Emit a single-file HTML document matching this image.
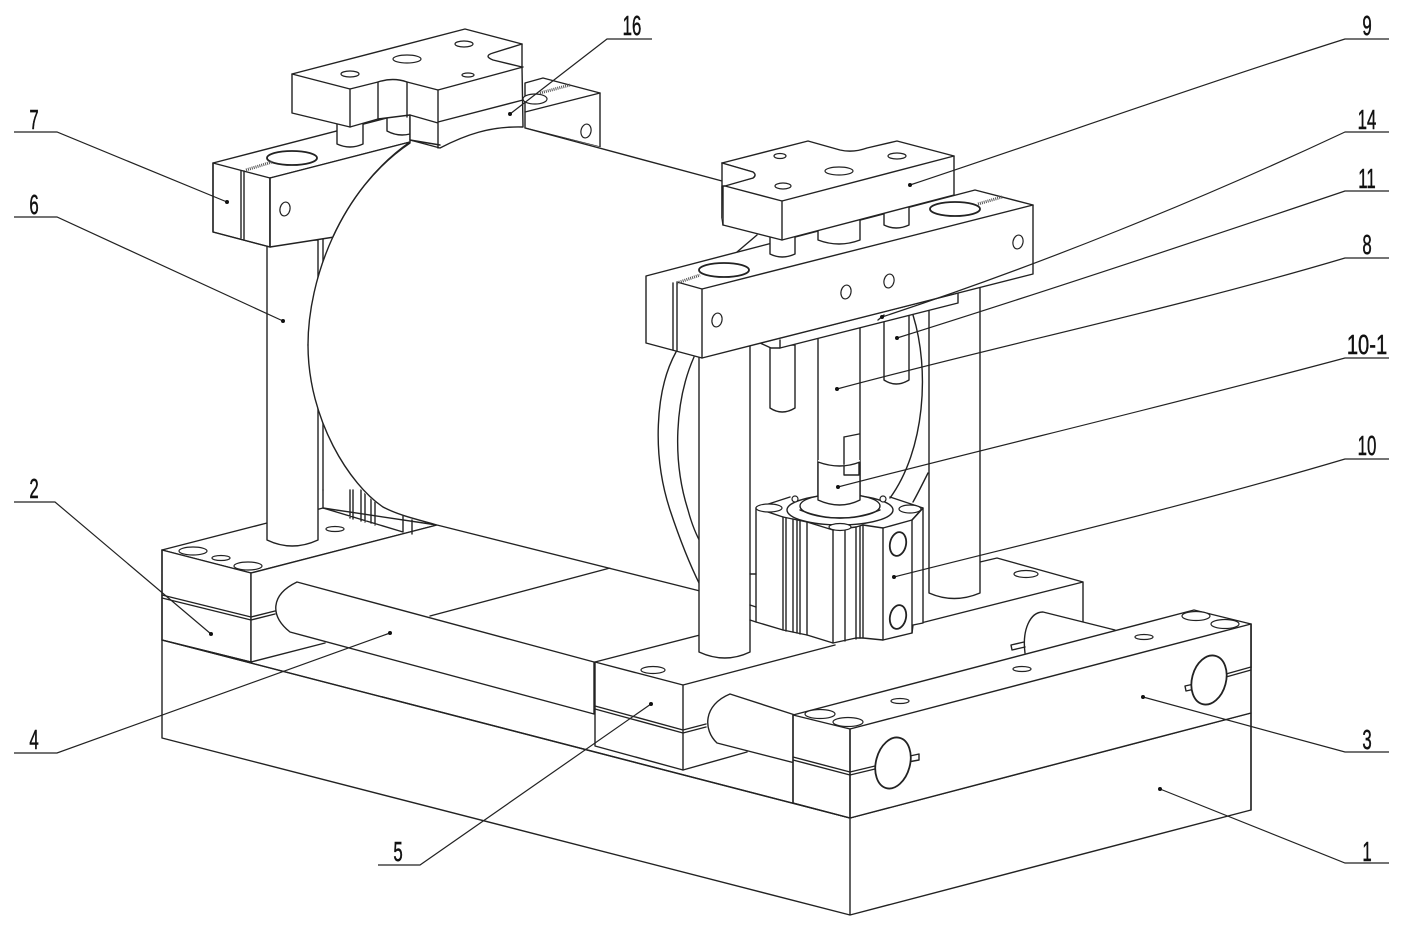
<!DOCTYPE html>
<html><head><meta charset="utf-8"><style>
html,body{margin:0;padding:0;background:#fff}
svg{display:block}
.l{fill:none;stroke:#222;stroke-width:1.4;stroke-linejoin:round;stroke-linecap:round}
.f{fill:#fff;stroke:#222;stroke-width:1.4;stroke-linejoin:round;stroke-linecap:round}
.h{fill:#fff;stroke:#222;stroke-width:1.2}
.b{fill:#fff;stroke:#222;stroke-width:1.8}
.t{fill:none;stroke:#555;stroke-width:3;stroke-dasharray:1 1}
.ld{fill:none;stroke:#222;stroke-width:1.2}
.d{fill:#111}
text{font-family:"Liberation Sans",sans-serif;font-size:28px;fill:#111;stroke:#111;stroke-width:.5;text-anchor:middle}
</style></head><body>
<svg width="1402" height="930" viewBox="0 0 1402 930" xmlns="http://www.w3.org/2000/svg">
<!-- base -->
<path class="l" d="M162,640V738L850,915L1251,810V713M850,818V915M162,640L850,818L1251,713"/>
<!-- rear-left lower block -->
<path class="f" d="M162,550L267,523L323,508L437,525L251,573Z"/>
<path class="f" d="M162,550L251,573V662L162,640Z"/>
<path class="f" d="M251,573L437,525L600,600L325,643L251,662Z" style="stroke:none"/>
<path class="l" d="M251,573L437,525M251,662L325,643M251,573V662M162,550V640M162,640L251,662"/>
<path class="l" d="M162,595L251,617L275,611M162,598L251,620L275,614"/>
<ellipse class="h" cx="193" cy="551" rx="14" ry="4"/><ellipse class="h" cx="221" cy="558" rx="9" ry="2.5"/><ellipse class="h" cx="248" cy="566" rx="14" ry="4"/><ellipse class="h" cx="335" cy="529" rx="9" ry="2.5"/>
<path class="l" d="M323,490V508M323,508L403,532M350,490V518M353,490V519M361,490V521M365,490V522M371,492V523M375,495V525M403,516V532M412,520V534"/>
<path class="l" d="M430,616L610,568"/>
<!-- rear right lower block -->
<path class="f" d="M595,662L700,635L750,622L913,625L997,558L1083,582V625L1115,630L850,700L683,770L595,746Z" style="stroke:none"/>
<path class="l" d="M595,662L700,635M683,685L835,645M913,625L1083,582L997,558L980,562M1083,582V622"/>
<ellipse class="h" cx="1026" cy="574" rx="12" ry="3.5"/>
<!-- rear rod right -->
<path class="f" d="M1025,653C1022,630 1030,612 1043,612L1115,630L1040,652Z" style="stroke:none"/>
<path class="l" d="M1025,653C1022,630 1030,612 1043,612L1115,630"/>
<path class="l" d="M1024,642L1011,645L1012,650L1025,647"/>
<!-- rods 4 and 5 -->
<path class="f" d="M297,582L594,662V714L290,632C270,616 270,595 297,582Z"/>
<!-- front-left block of 5 -->
<path class="f" d="M595,662L683,685V770L595,746Z"/>
<path class="l" d="M595,706L683,730L706,724M595,709L683,733L706,727M683,770L747,752"/>
<path class="l" d="M162,640L850,818"/>
<ellipse class="h" cx="653" cy="670" rx="12" ry="3.5"/>
<path class="f" d="M730,694L795,715V763L717,743C703,730 703,705 730,694Z"/>
<!-- back bar of upper-left -->
<path class="f" d="M525,83L543,78L600,93V147L525,128Z"/>
<path class="l" d="M525,112L600,93"/>
<ellipse class="h" cx="535" cy="99" rx="12" ry="5"/>
<path class="t" d="M540,93L570,85"/>
<ellipse class="h" cx="586" cy="131" rx="5" ry="7" transform="rotate(12 586 131)"/>
<!-- left pillar -->
<path class="f" d="M267,240V540Q292,552 318,540V240Z"/>
<path class="l" d="M323,235V490"/>
<!-- main cylinder -->
<path class="f" d="M410,143C340,190 308,280 308,345C308,420 350,490 383,507C400,515 420,520 437,525L700,590L800,600V200L722,181L600,147L525,128C490,126 465,135 440,148Z" style="stroke:none"/>
<path class="l" d="M308,345C308,420 350,485 383,507C400,516 420,520 437,525L700,591M525,128L722,181"/>
<!-- right end of cylinder -->
<path class="l" d="M676,352C655,390 652,455 670,510C680,540 690,565 700,585M694,357C675,400 672,460 688,510C692,525 696,535 702,545"/>
<path class="l" d="M913,315C930,370 925,450 890,498M928,473C922,485 917,495 913,502"/>
<!-- right rear pillar -->
<path class="f" d="M929,287V593Q954,604 980,593V287Z"/>
<!-- small rods, rod 8 -->
<path class="f" d="M770,345V408Q782,416 795,408V345Z"/>
<path class="f" d="M884,315V380Q896,388 909,380V315Z"/>
<path class="f" d="M818,335V500Q840,510 860,500V325Z"/>
<path class="l" d="M844,437V475H859M844,437L859,434M844,466L859,463"/>
<!-- front pillar -->
<path class="f" d="M699,355V652Q725,664 750,652V345Z"/>
<!-- pneumatic cylinder 10 -->
<path class="f" d="M756,508L783,517L807,522L833,530L856,527L863,525L883,528L912,520L923,508V623L913,625L912,633L883,640L863,638L856,638L833,643L807,635L783,630L756,622Z"/>
<path class="l" d="M783,517V630M786,518V631M793,519V632M797,520V633M800,521V634M807,522V635M833,530V643M845,529V641M856,527V639M860,526V638M863,525V638M883,528V640M912,520V633"/>
<path class="l" d="M912,520L923,508M756,508L790,497M890,497L923,508M756,574H750M750,605L756,607M750,620L756,622"/>
<ellipse class="f" cx="840" cy="510" rx="53" ry="15"/>
<ellipse class="f" cx="840" cy="506" rx="40" ry="12"/>
<path class="l" d="M800,510Q840,526 880,510"/>
<ellipse class="h" cx="769" cy="508" rx="13" ry="4"/><ellipse class="h" cx="910" cy="509" rx="11" ry="4"/><ellipse class="h" cx="840" cy="527" rx="11" ry="3.5"/>
<circle class="h" cx="795" cy="499" r="3"/><circle class="h" cx="883" cy="499" r="3"/>
<ellipse class="b" cx="898" cy="544" rx="8" ry="12" transform="rotate(12 898 544)"/>
<ellipse class="b" cx="898" cy="617" rx="8" ry="12" transform="rotate(12 898 617)"/>
<path class="f" d="M818,460V500Q840,510 860,500V460Q840,470 818,460Z" style="stroke:none"/>
<path class="l" d="M818,462V500Q840,510 860,500V462Q840,470 818,462"/>
<path class="l" d="M844,466V475H859V463"/>
<!-- left clamp bar 7 -->
<path class="f" d="M213,163L410,112V142L270,178V247L213,232Z"/>
<path class="f" d="M270,178L410,142C375,166.5 349.5,200.75 332.75,237.25L270,247Z"/>
<path class="l" d="M213,163L270,178M270,178V247M213,163V232L270,247"/>
<path class="l" d="M241,171V238M244,171V239"/>
<ellipse class="b" cx="292" cy="158" rx="25" ry="7"/>
<path class="t" d="M246,170L272,162"/>
<ellipse class="h" cx="285" cy="209" rx="5" ry="7" transform="rotate(12 285 209)"/>
<path class="l" d="M410,143C340,190 308,280 308,345"/>
<!-- lower-left upper piece studs -->
<path class="f" d="M337,120V144Q350,150 363,144V120Z"/>
<path class="f" d="M387,110V131Q398,137 410,134V110Z"/>
<!-- left upper piece 16 -->
<path class="f" d="M292,74L465,29L522,44V67L523,127C490,126 465,135 440,148L410,140V115L378,119L350,127L292,113Z"/>
<path class="l" d="M350,89V127M378,82V119M407,82V117M438,90V148M292,74L350,89L378,82Q393,77 407,82L438,90L523,67M438,122L523,100M410,115L438,123M522,44L493,53Q483,56 493,60L522,67"/>
<ellipse class="h" cx="350" cy="74" rx="9" ry="3"/><ellipse class="h" cx="407" cy="59" rx="14" ry="4"/><ellipse class="h" cx="464" cy="44" rx="9" ry="3"/><ellipse class="h" cx="468" cy="75" rx="6" ry="2"/>
<path class="l" d="M410,140L440,145"/>
<!-- plate 14 -->
<path class="f" d="M760,343L958,293V303L780,348H771Z"/>
<path class="l" d="M780,340V348M884,315L878,320"/>
<!-- right clamp bar -->
<path class="l" d="M757,235L737,252"/>
<path class="f" d="M646,276L975,190L1033,205V274L702,358L646,343Z"/>
<path class="l" d="M702,289L1033,205M702,289V358M673,283V350M677,282V351M677,282L702,289"/>
<ellipse class="b" cx="724" cy="270" rx="25" ry="7"/>
<ellipse class="b" cx="955" cy="209" rx="25" ry="7"/>
<path class="t" d="M677,283L700,275M978,204L1002,197"/>
<ellipse class="h" cx="717" cy="320" rx="5" ry="7" transform="rotate(12 717 320)"/>
<ellipse class="h" cx="846" cy="292" rx="5" ry="7" transform="rotate(12 846 292)"/>
<ellipse class="h" cx="889" cy="281" rx="5" ry="7" transform="rotate(12 889 281)"/>
<ellipse class="h" cx="1018" cy="242" rx="5" ry="7" transform="rotate(12 1018 242)"/>
<!-- studs below 9 -->
<path class="f" d="M770,225V254Q782,260 795,254V225Z"/>
<path class="f" d="M818,215V240Q839,248 860,240V215Z"/>
<path class="f" d="M884,195V225Q896,231 909,225V195Z"/>
<!-- piece 9 -->
<path class="f" d="M722,163L808,141L840,150Q853,153 867,148L897,141L954,156V195L782,240L723,225V186L753,178Q757,175 753,172L722,163Z"/>
<path class="f" d="M722,163L753,172Q757,175 753,178L725,186L722,186V218L723,225"/>
<path class="l" d="M725,186L782,201L954,156M782,201V240M722,163V218"/>
<ellipse class="h" cx="780" cy="156" rx="6" ry="2.5"/><ellipse class="h" cx="897" cy="156" rx="9" ry="3"/><ellipse class="h" cx="839" cy="171" rx="14" ry="4"/><ellipse class="h" cx="783" cy="186" rx="8" ry="3"/>
<!-- front block 3 -->
<path class="f" d="M793,715L1194,610L1251,624V668L1226,675V715L850,818L793,803Z"/>
<path class="f" d="M850,729L1251,624V713L850,818Z"/>
<path class="l" d="M793,715L850,729M793,715V803M850,729V818M793,803L850,818M1251,624V810"/>
<path class="l" d="M793,757L850,772L875,766M793,760L850,775L875,769"/>
<path class="l" d="M1226,674L1251,667M1226,677L1251,670"/>
<ellipse class="h" cx="820" cy="714" rx="15" ry="4.5"/><ellipse class="h" cx="848" cy="722" rx="15" ry="4.5"/><ellipse class="h" cx="900" cy="701" rx="9" ry="2.5"/><ellipse class="h" cx="1022" cy="669" rx="9" ry="2.5"/><ellipse class="h" cx="1144" cy="637" rx="9" ry="2.5"/><ellipse class="h" cx="1196" cy="616" rx="14" ry="4.5"/><ellipse class="h" cx="1225" cy="624" rx="14" ry="4.5"/>
<path class="l" d="M910,756L919,754L919,760L908,762M1194,684L1185,686L1186,691L1195,689"/>
<ellipse class="b" cx="893" cy="763" rx="17" ry="26" transform="rotate(15 893 763)"/>
<ellipse class="b" cx="1209" cy="680" rx="17" ry="25" transform="rotate(15 1209 680)"/>
<!-- leaders -->
<path class="ld" d="M652,39H607L510,114M1389,39H1345C1200,85 1060,135 910,185M1389,132H1345C1200,200 1040,265 882,317M1389,191H1345C1200,240 1050,290 897,338M1389,258H1345C1170,310 1000,345 837,389M1389,358H1345C1170,405 1000,445 838,487M1389,459H1345C1190,505 1040,540 894,577M1389,752H1345L1143,697M1389,863H1345L1160,789M378,865H420L651,704M14,753H57L390,633M14,502H55L211,634M14,217H57L283,321M14,132H57L227,202"/>
<g class="d"><circle cx="510" cy="114" r="2"/><circle cx="910" cy="185" r="2"/><circle cx="882" cy="317" r="2"/><circle cx="897" cy="338" r="2"/><circle cx="837" cy="389" r="2"/><circle cx="838" cy="487" r="2"/><circle cx="894" cy="577" r="2"/><circle cx="1143" cy="697" r="2"/><circle cx="1160" cy="789" r="2"/><circle cx="651" cy="704" r="2"/><circle cx="390" cy="633" r="2"/><circle cx="211" cy="634" r="2"/><circle cx="283" cy="321" r="2"/><circle cx="227" cy="202" r="2"/></g>
<!-- labels -->
<text transform="translate(632,35) scale(.6,1)">16</text>
<text transform="translate(1367,35) scale(.6,1)">9</text>
<text transform="translate(1367,129) scale(.6,1)">14</text>
<text transform="translate(1367,188) scale(.6,1)">11</text>
<text transform="translate(1367,254) scale(.6,1)">8</text>
<text transform="translate(1367,354) scale(.72,1)">10-1</text>
<text transform="translate(1367,455) scale(.6,1)">10</text>
<text transform="translate(1367,749) scale(.6,1)">3</text>
<text transform="translate(1367,861) scale(.6,1)">1</text>
<text transform="translate(398,861) scale(.6,1)">5</text>
<text transform="translate(34,749) scale(.6,1)">4</text>
<text transform="translate(34,498) scale(.6,1)">2</text>
<text transform="translate(34,214) scale(.6,1)">6</text>
<text transform="translate(34,129) scale(.6,1)">7</text>
</svg>
</body></html>
